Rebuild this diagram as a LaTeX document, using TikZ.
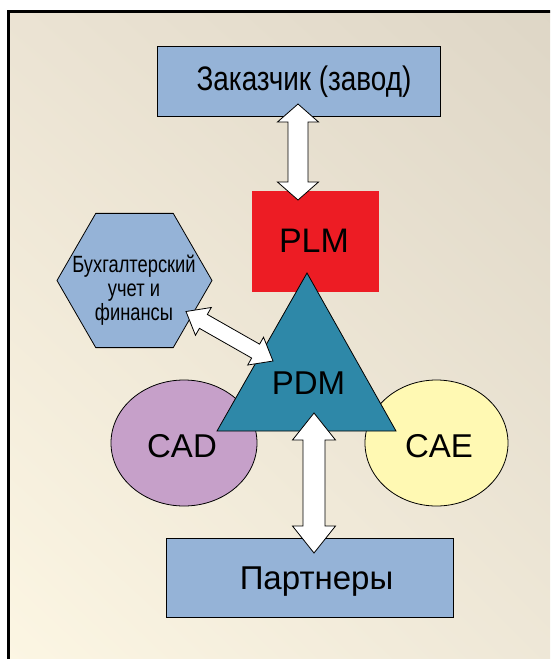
\documentclass[tikz,border=0pt]{standalone}
\usepackage{fontspec}
\setmainfont{Liberation Sans}
\newfontfamily\narrowA[FakeStretch=0.82]{Liberation Sans}
\newfontfamily\narrowB[FakeStretch=0.78]{Liberation Sans}
\usetikzlibrary{calc,shapes.geometric,shadings}
\definecolor{bgUL}{HTML}{EBE3D3}
\definecolor{bgUR}{HTML}{DDD5C5}
\definecolor{bgLL}{HTML}{FDF7E4}
\definecolor{bgLR}{HTML}{EEE7D7}
\definecolor{boxblue}{HTML}{95B3D7}
\definecolor{plmred}{HTML}{ED1C24}
\definecolor{pdmteal}{HTML}{2E88A8}
\definecolor{cadlilac}{HTML}{C6A0C9}
\definecolor{caeyellow}{HTML}{FFF9B3}
\newcommand\blockarrow[5]{%
  \coordinate (h1) at ($(#1)!#5!(#2)$);
  \coordinate (h2) at ($(#2)!#5!(#1)$);
  \draw[blockarr] (#1) -- ($(h1)!#4!90:(#2)$) -- ($(h1)!#3!90:(#2)$)
    -- ($(h2)!#3!-90:(#1)$) -- ($(h2)!#4!-90:(#1)$) -- (#2)
    -- ($(h2)!#4!90:(#1)$) -- ($(h2)!#3!90:(#1)$)
    -- ($(h1)!#3!-90:(#2)$) -- ($(h1)!#4!-90:(#2)$) -- cycle;
}
\begin{document}
\begin{tikzpicture}[x=1pt,y=-1pt,
  bigtext/.style={font=\fontsize{33}{38}\selectfont, text depth=0pt, inner sep=0pt},
  bluebox/.style={draw=black, line width=1pt, fill=boxblue, inner sep=0pt},
  blockarr/.style={draw=black, line width=0.8pt, fill=white, line join=miter},
  shapeline/.style={draw=black, line width=0.8pt}]
\useasboundingbox (0,0) rectangle (550,659);
\clip (0,0) rectangle (550,659);
\fill[white] (0,0) rectangle (550,659);
\shade[upper left=bgUL, upper right=bgUR, lower left=bgLL, lower right=bgLR] (8,11) rectangle (600,700);
\draw[line width=3pt] (8,11) rectangle (600,700);

% Customer box
\node[bluebox, minimum width=283pt, minimum height=70pt] (zak) at (298.5,81) {};
\node[inner sep=0pt, text depth=0pt, font=\narrowA\fontsize{34}{40}\selectfont] (zaktext) at (304,78.5) {Заказчик (завод)};
% PLM
\node[fill=plmred, inner sep=0pt, minimum width=127pt, minimum height=101pt] (plm) at (315.5,241.5) {};
\node[bigtext, font=\fontsize{34}{40}\selectfont] (plmtext) at (314,240.5) {PLM};
% Accounting hexagon
\node[regular polygon, regular polygon sides=6, shapeline, fill=boxblue, minimum size=155pt, inner sep=0pt] (hex) at (134.5,280.5) {};
\node[align=center, inner sep=0pt, font=\narrowB\fontsize{23.5}{24}\selectfont] (hextext) at (134,290) {Бухгалтерский\\учет и\\финансы};
% CAD, CAE
\node[ellipse, shapeline, fill=cadlilac, minimum width=146pt, minimum height=126pt, inner sep=0pt] (cad) at (184,443) {};
\node[bigtext] (cadtext) at (182,446) {CAD};
\node[ellipse, shapeline, fill=caeyellow, minimum width=143pt, minimum height=126pt, inner sep=0pt] (cae) at (436.5,443) {};
\node[bigtext] (caetext) at (439,446) {CAE};
% PDM triangle
\coordinate (tA) at (307,273);
\coordinate (tB) at (217,431);
\coordinate (tC) at (396,431);
\draw[shapeline, fill=pdmteal, line join=miter] (tA) -- (tB) -- (tC) -- cycle;
\node[bigtext] (pdm) at (308.5,383.5) {PDM};
% Partners box
\node[bluebox, minimum width=287pt, minimum height=79pt] (par) at (309.5,577.5) {};
\node[bigtext] (partext) at (316.5,578) {Партнеры};

% Block arrows
\coordinate (a1s) at (298,104);
\coordinate (a1e) at (298,200);
\blockarrow{a1s}{a1e}{10pt}{20.5pt}{18pt}
\coordinate (a2s) at (314,413);
\coordinate (a2e) at (314,553);
\blockarrow{a2s}{a2e}{11pt}{21.5pt}{27pt}
\coordinate (a3s) at (186,311.5);
\coordinate (a3e) at (273,361);
\blockarrow{a3s}{a3e}{8pt}{16pt}{20pt}
\end{tikzpicture}
\end{document}
